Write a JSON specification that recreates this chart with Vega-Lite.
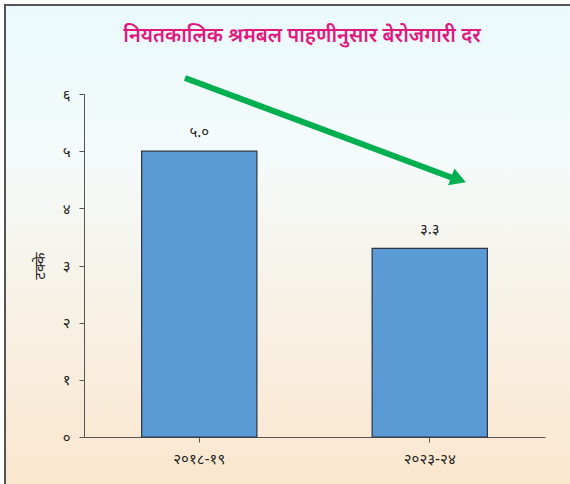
{
  "$schema": "https://vega.github.io/schema/vega-lite/v6.json",
  "width": 570,
  "height": 484,
  "autosize": {"type": "none"},
  "padding": {"left": 5, "top": 5, "right": 0, "bottom": 0},
  "background": "#ffffff",
  "title": {
    "text": "नियतकालिक श्रमबल पाहणीनुसार बेरोजगारी दर",
    "color": "#E2177E",
    "fontSize": 20,
    "fontWeight": 600,
    "font": "Noto Sans Devanagari, Noto Sans, sans-serif",
    "anchor": "middle",
    "offset": -41,
    "dx": 12
  },
  "config": {
    "font": "Noto Sans Devanagari, Noto Sans, sans-serif",
    "view": {
      "fill": {
        "gradient": "linear",
        "x1": 0, "y1": 0, "x2": 0, "y2": 1,
        "stops": [
          {"offset": 0, "color": "#EAF9FC"},
          {"offset": 0.3, "color": "#F4FBFB"},
          {"offset": 1, "color": "#FBE6CD"}
        ]
      },
      "stroke": "#555555",
      "strokeWidth": 2
    },
    "axis": {"grid": false, "domainColor": "#555555", "tickColor": "#555555", "labelColor": "#222222", "titleColor": "#222222"}
  },
  "layer": [
    {
      "data": {"values": [
        {"year": "२०१८-१९", "value": 5.0, "label": "५.०"},
        {"year": "२०२३-२४", "value": 3.3, "label": "३.३"}
      ]},
      "encoding": {
        "x": {"field": "year", "type": "nominal", "sort": null,
          "scale": {"range": [79, 540], "paddingInner": 0.5, "paddingOuter": 0.25},
          "axis": {"title": null, "labelAngle": 0, "labelFontSize": 15, "labelPadding": 9, "tickSize": 5, "offset": -52}},
        "y": {"field": "value", "type": "quantitative",
          "scale": {"domain": [0, 6], "range": [432, 89], "nice": false, "zero": true},
          "axis": {"title": "टक्के", "titleFontSize": 15, "titleFontWeight": "normal", "titlePadding": 15,
            "values": [0, 1, 2, 3, 4, 5, 6], "labelExpr": "['०','१','२','३','४','५','६'][datum.value]",
            "labelFontSize": 15, "labelPadding": 9, "tickSize": 5, "offset": -79}}
      },
      "layer": [
        {"mark": {"type": "bar", "color": "#5B9BD5", "stroke": "#2B3440", "strokeWidth": 1.2}},
        {"mark": {"type": "text", "baseline": "bottom", "dy": -11, "fontSize": 15, "color": "#222222"},
         "encoding": {"text": {"field": "label"}}}
      ]
    },
    {
      "data": {"values": [{"x1": 0.438, "y1": 6.28, "x2": 1.60, "y2": 4.53, "xh": 1.625, "yh": 4.505}]},
      "layer": [
        {"mark": {"type": "rule", "color": "#00B050", "strokeWidth": 6},
         "encoding": {
           "x": {"field": "x1", "type": "quantitative", "scale": {"domain": [0, 2], "range": [79, 540], "nice": false, "zero": false}, "axis": null},
           "x2": {"field": "x2"},
           "y": {"field": "y1", "type": "quantitative", "axis": null},
           "y2": {"field": "y2"}
         }},
        {"mark": {"type": "point", "shape": "triangle-right", "filled": true, "color": "#00B050", "opacity": 1, "size": 320, "angle": 20.4},
         "encoding": {
           "x": {"field": "xh", "type": "quantitative", "scale": {"domain": [0, 2], "range": [79, 540], "nice": false, "zero": false}, "axis": null},
           "y": {"field": "yh", "type": "quantitative", "axis": null}
         }}
      ]
    }
  ],
  "resolve": {"scale": {"x": "independent"}, "axis": {"y": "independent"}}
}
